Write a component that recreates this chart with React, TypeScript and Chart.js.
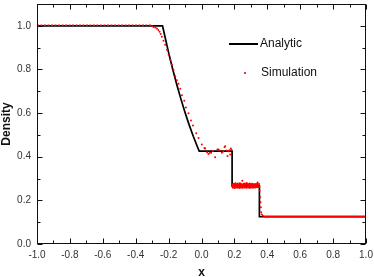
import React, { useEffect, useRef } from "react";
import { Chart, registerables } from "chart.js";
Chart.register(...registerables);

// Axis ticks
const xMajorTicks = [-1.0, -0.8, -0.6, -0.4, -0.2, 0.0, 0.2, 0.4, 0.6, 0.8, 1.0];
const xMinorTicks = [-0.9, -0.7, -0.5, -0.3, -0.1, 0.1, 0.3, 0.5, 0.7, 0.9];
const yMajorTicks = [0.0, 0.2, 0.4, 0.6, 0.8, 1.0];
const yMinorTicks = [0.1, 0.3, 0.5, 0.7, 0.9];

// Analytic solution (Sod shock tube)
const analyticX = [-1.0, -0.237, -0.225, -0.2, -0.175, -0.15, -0.125, -0.1, -0.075, -0.05, -0.025, -0.014, 0.186, 0.186, 0.352, 0.352, 1.0];
const analyticY = [1.0, 1.0, 0.96, 0.877, 0.801, 0.73, 0.664, 0.603, 0.546, 0.494, 0.446, 0.426, 0.426, 0.266, 0.266, 0.125, 0.125];

// Simulation: dense uniform states (appear as continuous red bands)
const simLeftX = [-1.0, -0.30];
const simLeftY = [1.003, 1.003];
const simRightX = [0.378, 1.0];
const simRightY = [0.126, 0.126];

// Simulation: rarefaction fan
const simRareX = [-0.300, -0.292, -0.281, -0.271, -0.263, -0.255, -0.248, -0.241, -0.231, -0.221, -0.210, -0.200, -0.190, -0.180, -0.170, -0.160, -0.150, -0.140, -0.129, -0.119, -0.105, -0.095, -0.079, -0.064, -0.052, -0.032, -0.018, 0.002, 0.018];
const simRareY = [0.999, 0.995, 0.992, 0.988, 0.981, 0.973, 0.962, 0.950, 0.932, 0.913, 0.890, 0.867, 0.845, 0.822, 0.797, 0.769, 0.750, 0.734, 0.712, 0.682, 0.656, 0.626, 0.599, 0.566, 0.543, 0.508, 0.486, 0.456, 0.440];

// Simulation: post-rarefaction plateau
const simPlateauX = [0.022, 0.034, 0.042, 0.050, 0.059, 0.070, 0.083, 0.097, 0.103, 0.110, 0.124, 0.132, 0.140, 0.144, 0.152, 0.158, 0.164, 0.170, 0.174, 0.178, 0.182];
const simPlateauY = [0.438, 0.420, 0.413, 0.418, 0.418, 0.426, 0.398, 0.433, 0.433, 0.428, 0.418, 0.424, 0.443, 0.448, 0.428, 0.403, 0.425, 0.430, 0.410, 0.438, 0.432];

// Simulation: region between contact and shock (noisy band)
const simContactX = [0.188, 0.191, 0.194, 0.197, 0.200, 0.203, 0.206, 0.209, 0.212, 0.215, 0.218, 0.221, 0.224, 0.227, 0.230, 0.233, 0.236, 0.239, 0.242, 0.245, 0.248, 0.251, 0.254, 0.257, 0.260, 0.263, 0.266, 0.269, 0.272, 0.275, 0.278, 0.281, 0.284, 0.287, 0.290, 0.293, 0.296, 0.299, 0.302, 0.305, 0.308, 0.311, 0.314, 0.317, 0.320, 0.323, 0.326, 0.329, 0.332, 0.335, 0.338, 0.341, 0.344, 0.347];
const simContactUpperY = [0.270, 0.274, 0.268, 0.276, 0.271, 0.273, 0.278, 0.269, 0.272, 0.275, 0.270, 0.277, 0.273, 0.268, 0.274, 0.279, 0.271, 0.276, 0.270, 0.273, 0.290, 0.272, 0.275, 0.269, 0.277, 0.274, 0.271, 0.276, 0.273, 0.280, 0.270, 0.275, 0.272, 0.274, 0.269, 0.277, 0.273, 0.271, 0.275, 0.270, 0.276, 0.272, 0.274, 0.268, 0.273, 0.271, 0.275, 0.270, 0.274, 0.272, 0.276, 0.282, 0.271, 0.274];
const simContactLowerY = [0.262, 0.258, 0.264, 0.260, 0.263, 0.257, 0.261, 0.265, 0.259, 0.262, 0.264, 0.258, 0.261, 0.263, 0.260, 0.257, 0.262, 0.264, 0.259, 0.261, 0.263, 0.258, 0.262, 0.265, 0.260, 0.259, 0.263, 0.261, 0.258, 0.264, 0.260, 0.262, 0.259, 0.263, 0.261, 0.257, 0.264, 0.260, 0.262, 0.259, 0.263, 0.261, 0.258, 0.262, 0.264, 0.260, 0.259, 0.263, 0.261, 0.262, 0.260, 0.264, 0.261, 0.263];

// Simulation: shock front
const simShockX = [0.350, 0.352, 0.354, 0.357, 0.359, 0.361, 0.363, 0.367, 0.373];
const simShockY = [0.275, 0.262, 0.245, 0.214, 0.191, 0.169, 0.146, 0.135, 0.129];

const FONT = "'Liberation Sans', Arial, sans-serif";
const pts = (xs: number[], ys: number[]) => xs.map((x, i) => ({ x, y: ys[i] }));

const framePlugin = {
  id: "frameTicks",
  afterDatasetsDraw(chart: any) {
    const { ctx, chartArea } = chart;
    const xs = chart.scales.x;
    const ys = chart.scales.y;
    const L = Math.round(chartArea.left) + 0.5;
    const R = Math.round(chartArea.right) - 0.5;
    const T = Math.round(chartArea.top) + 0.5;
    const B = Math.round(chartArea.bottom) - 0.5;
    ctx.save();
    ctx.strokeStyle = "#111";
    ctx.lineWidth = 1;
    ctx.strokeRect(L, T, R - L, B - T);
    const tick = (vals: number[], len: number) => {
      vals.forEach((v) => {
        const px = Math.round(xs.getPixelForValue(v)) + 0.5;
        ctx.beginPath();
        ctx.moveTo(px, B);
        ctx.lineTo(px, B - len);
        ctx.moveTo(px, T);
        ctx.lineTo(px, T + len);
        ctx.stroke();
      });
    };
    const tickY = (vals: number[], len: number) => {
      vals.forEach((v) => {
        const py = Math.round(ys.getPixelForValue(v)) + 0.5;
        ctx.beginPath();
        ctx.moveTo(L, py);
        ctx.lineTo(L + len, py);
        ctx.moveTo(R, py);
        ctx.lineTo(R - len, py);
        ctx.stroke();
      });
    };
    tick(xMajorTicks, 5);
    tick(xMinorTicks, 3);
    tickY(yMajorTicks, 5);
    tickY(yMinorTicks, 3);

    // legend
    ctx.strokeStyle = "#000";
    ctx.lineWidth = 2;
    ctx.beginPath();
    ctx.moveTo(229, 44);
    ctx.lineTo(258, 44);
    ctx.stroke();
    ctx.fillStyle = "#ff0000";
    ctx.beginPath();
    ctx.arc(245, 73, 1.1, 0, Math.PI * 2);
    ctx.fill();
    ctx.fillStyle = "#111";
    ctx.font = `12px ${FONT}`;
    ctx.textBaseline = "middle";
    ctx.textAlign = "left";
    ctx.fillText("Analytic", 260, 44);
    ctx.fillText("Simulation", 261, 73);
    ctx.restore();
  },
};

export default function App() {
  const ref = useRef<HTMLCanvasElement>(null);
  useEffect(() => {
    if (!ref.current) return;
    const chart = new Chart(ref.current, {
      type: "scatter",
      data: {
        datasets: [
          { data: pts(simLeftX, simLeftY), showLine: true, borderColor: "#ff0000", borderWidth: 1.5, borderDash: [2, 1.5], pointRadius: 0, order: 0 } as any,
          { data: pts(simRightX, simRightY), showLine: true, borderColor: "#ff0000", borderWidth: 2, pointRadius: 0, order: 0 } as any,
          { label: "Simulation", data: [...pts(simRareX, simRareY), ...pts(simPlateauX, simPlateauY), ...pts(simContactX, simContactUpperY), ...pts(simContactX, simContactLowerY), ...pts(simShockX, simShockY)], backgroundColor: "#ff0000", borderWidth: 0, pointRadius: 1, order: 0 } as any,
          { label: "Analytic", data: pts(analyticX, analyticY), showLine: true, borderColor: "#000", borderWidth: 1.7, pointRadius: 0, order: 1 } as any,
        ],
      },
      options: {
        animation: false,
        responsive: false,
        layout: { padding: { top: 1, right: 8, left: 0, bottom: 0 } },
        plugins: { legend: { display: false }, tooltip: { enabled: false } },
        scales: {
          x: {
            type: "linear",
            min: -1,
            max: 1,
            grid: { display: false, drawTicks: false },
            border: { display: false },
            ticks: { padding: 5, color: "#333", font: { family: FONT, size: 10 }, callback: (v: any) => Number(v).toFixed(1), maxRotation: 0, autoSkip: false },
            afterBuildTicks: (s: any) => { s.ticks = xMajorTicks.map((v) => ({ value: v })); },
            afterFit: (s: any) => { s.height = 33; s.paddingLeft = 0; s.paddingRight = 0; },
            title: { display: true, text: "x", color: "#111", font: { family: FONT, size: 12, weight: "bold", lineHeight: 1 }, padding: { top: 0, bottom: -2 } },
          },
          y: {
            type: "linear",
            min: 0,
            max: 1.1,
            grid: { display: false, drawTicks: false },
            border: { display: false },
            ticks: { padding: 6, color: "#333", font: { family: FONT, size: 10 }, callback: (v: any) => Number(v).toFixed(1), autoSkip: false },
            afterBuildTicks: (s: any) => { s.ticks = yMajorTicks.map((v) => ({ value: v })); },
            afterFit: (s: any) => { s.width = 37; s.paddingTop = 0; s.paddingBottom = 0; },
            title: { display: true, text: "Density", color: "#111", font: { family: FONT, size: 12, weight: "bold", lineHeight: 1 }, padding: { top: 1, bottom: 0 } },
          },
        },
      },
      plugins: [framePlugin],
    } as any);
    return () => chart.destroy();
  }, []);
  return (
    <div style={{ position: "absolute", left: 0, top: 0, width: 374, height: 277, background: "#fff" }}>
      <canvas ref={ref} width={374} height={277} />
    </div>
  );
}
